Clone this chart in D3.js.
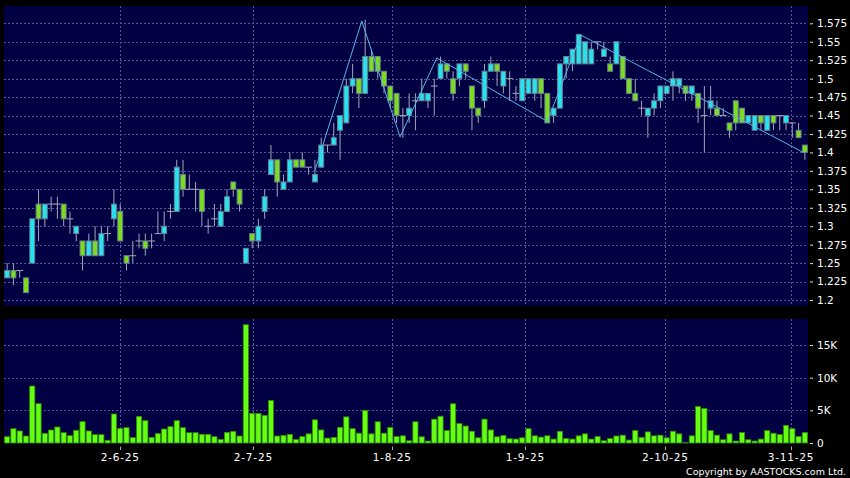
<!DOCTYPE html>
<html>
<head>
<meta charset="utf-8">
<script src="https://cdn.jsdelivr.net/npm/d3@7"></script>
<style>
  html, body { margin: 0; padding: 0; background: #000; }
  svg { display: block; }
</style>
</head>
<body>
<svg id="chart" width="850" height="478"></svg>
<script>
// daily OHLC, oldest first
const open = [
  1.23, 1.24, 1.24, 1.23, 1.25, 1.33, 1.31, 1.33, 1.33, 1.33,
  1.31, 1.29, 1.28, 1.26, 1.28, 1.26, 1.29, 1.31, 1.32, 1.26,
  1.26, 1.28, 1.28, 1.28, 1.29, 1.29, 1.32, 1.32, 1.37, 1.35,
  1.35, 1.35, 1.30, 1.31, 1.30, 1.32, 1.36, 1.35, 1.25, 1.29,
  1.28, 1.32, 1.37, 1.39, 1.35, 1.36, 1.39, 1.39, 1.38, 1.36,
  1.38, 1.41, 1.41, 1.43, 1.44, 1.49, 1.50, 1.48, 1.53, 1.53,
  1.51, 1.49, 1.48, 1.45, 1.45, 1.47, 1.47, 1.47, 1.49, 1.50,
  1.52, 1.50, 1.50, 1.52, 1.49, 1.46, 1.47, 1.51, 1.52, 1.49,
  1.50, 1.48, 1.47, 1.48, 1.48, 1.50, 1.48, 1.45, 1.46, 1.52,
  1.52, 1.52, 1.52, 1.52, 1.55, 1.53, 1.52, 1.52, 1.53, 1.50,
  1.48, 1.46, 1.45, 1.46, 1.47, 1.48, 1.49, 1.49, 1.49, 1.48,
  1.48, 1.45, 1.46, 1.46, 1.45, 1.44, 1.47, 1.46, 1.44, 1.43,
  1.45, 1.43, 1.45, 1.45, 1.44, 1.44, 1.43, 1.41
];
const high = [
  1.25, 1.25, 1.24, 1.23, 1.31, 1.35, 1.33, 1.34, 1.34, 1.33,
  1.32, 1.30, 1.28, 1.29, 1.30, 1.30, 1.30, 1.35, 1.33, 1.26,
  1.28, 1.29, 1.29, 1.29, 1.32, 1.32, 1.33, 1.39, 1.39, 1.37,
  1.36, 1.35, 1.31, 1.33, 1.33, 1.35, 1.36, 1.35, 1.27, 1.29,
  1.31, 1.35, 1.41, 1.39, 1.37, 1.40, 1.39, 1.40, 1.38, 1.39,
  1.42, 1.41, 1.44, 1.45, 1.50, 1.52, 1.50, 1.58, 1.54, 1.53,
  1.51, 1.49, 1.48, 1.46, 1.48, 1.48, 1.50, 1.48, 1.50, 1.53,
  1.52, 1.51, 1.52, 1.52, 1.49, 1.46, 1.52, 1.53, 1.52, 1.51,
  1.51, 1.49, 1.50, 1.50, 1.50, 1.50, 1.48, 1.46, 1.52, 1.53,
  1.54, 1.56, 1.55, 1.55, 1.55, 1.55, 1.53, 1.55, 1.53, 1.50,
  1.50, 1.47, 1.46, 1.48, 1.49, 1.49, 1.51, 1.50, 1.49, 1.49,
  1.48, 1.49, 1.49, 1.47, 1.46, 1.44, 1.47, 1.46, 1.45, 1.45,
  1.45, 1.45, 1.45, 1.45, 1.45, 1.44, 1.44, 1.41
];
const low = [
  1.23, 1.22, 1.23, 1.21, 1.25, 1.28, 1.30, 1.32, 1.31, 1.30,
  1.29, 1.28, 1.24, 1.26, 1.26, 1.26, 1.28, 1.30, 1.28, 1.24,
  1.25, 1.27, 1.26, 1.27, 1.29, 1.28, 1.31, 1.32, 1.34, 1.35,
  1.32, 1.30, 1.29, 1.30, 1.30, 1.32, 1.34, 1.32, 1.25, 1.27,
  1.27, 1.31, 1.37, 1.34, 1.35, 1.36, 1.38, 1.38, 1.37, 1.36,
  1.38, 1.40, 1.41, 1.39, 1.44, 1.48, 1.46, 1.48, 1.51, 1.50,
  1.48, 1.46, 1.44, 1.42, 1.44, 1.43, 1.47, 1.46, 1.45, 1.50,
  1.50, 1.47, 1.49, 1.50, 1.43, 1.44, 1.46, 1.51, 1.49, 1.48,
  1.47, 1.47, 1.47, 1.48, 1.47, 1.46, 1.44, 1.44, 1.46, 1.50,
  1.51, 1.52, 1.52, 1.52, 1.54, 1.53, 1.51, 1.52, 1.50, 1.48,
  1.47, 1.45, 1.42, 1.45, 1.46, 1.48, 1.47, 1.48, 1.47, 1.47,
  1.44, 1.40, 1.45, 1.45, 1.45, 1.42, 1.43, 1.44, 1.44, 1.43,
  1.43, 1.43, 1.43, 1.43, 1.43, 1.42, 1.42, 1.39
];
const close = [
  1.24, 1.23, 1.24, 1.21, 1.31, 1.31, 1.33, 1.33, 1.33, 1.31,
  1.31, 1.30, 1.26, 1.28, 1.26, 1.29, 1.29, 1.33, 1.28, 1.25,
  1.26, 1.28, 1.27, 1.28, 1.29, 1.30, 1.32, 1.38, 1.35, 1.35,
  1.35, 1.32, 1.30, 1.31, 1.32, 1.34, 1.35, 1.33, 1.27, 1.28,
  1.30, 1.34, 1.39, 1.36, 1.36, 1.39, 1.38, 1.38, 1.38, 1.37,
  1.41, 1.41, 1.42, 1.45, 1.49, 1.50, 1.48, 1.53, 1.51, 1.51,
  1.49, 1.47, 1.45, 1.45, 1.46, 1.47, 1.48, 1.48, 1.49, 1.52,
  1.51, 1.48, 1.52, 1.51, 1.46, 1.45, 1.51, 1.52, 1.51, 1.51,
  1.50, 1.48, 1.50, 1.50, 1.50, 1.48, 1.44, 1.46, 1.52, 1.53,
  1.54, 1.56, 1.55, 1.54, 1.55, 1.54, 1.51, 1.55, 1.50, 1.48,
  1.47, 1.46, 1.46, 1.47, 1.49, 1.49, 1.50, 1.50, 1.48, 1.49,
  1.46, 1.45, 1.47, 1.45, 1.45, 1.43, 1.44, 1.44, 1.45, 1.45,
  1.44, 1.45, 1.44, 1.45, 1.45, 1.44, 1.42, 1.40
];
const volume = [
  970, 2190, 1840, 1070, 8720, 6020, 1480, 1990, 2450, 1580,
  1120, 1940, 3270, 1840, 1280, 1280, 410, 4440, 2240, 2350,
  820, 4080, 3420, 870, 1430, 2140, 2500, 3420, 2350, 1580,
  1580, 1330, 1330, 970, 560, 1630, 1790, 1070, 18100, 4540,
  4540, 4230, 6530, 1070, 1170, 1330, 550, 1000, 1400, 3550,
  2000, 750, 850, 2400, 4000, 2200, 1500, 5000, 1400, 3250,
  1500, 2400, 1000, 1100, 350, 3250, 950, 300, 3650, 4100,
  1900, 6000, 3000, 2600, 1800, 800, 3650, 2000, 950, 1150,
  650, 600, 800, 2200, 1100, 900, 1100, 600, 1800, 700,
  600, 1100, 1400, 600, 1000, 350, 700, 1070, 1200, 450,
  1900, 870, 1700, 1100, 1200, 800, 1800, 1400, 100, 1100,
  5600, 5300, 1900, 1200, 500, 1400, 300, 1600, 500, 300,
  600, 1900, 1500, 1300, 2700, 2200, 1000, 1600
];

const priceTicks = [1.2, 1.225, 1.25, 1.275, 1.3, 1.325, 1.35, 1.375, 1.4,
  1.425, 1.45, 1.475, 1.5, 1.525, 1.55, 1.575];
const volumeTicks = [0, 5000, 10000, 15000];
const dateLabels = ["2-6-25", "2-7-25", "1-8-25", "1-9-25", "2-10-25", "3-11-25"];
const dateIdx = [18, 39.2, 61.3, 82.5, 104.8, 124.8];

// swing line overlay (bar index, price)
const zigIdx = [49, 56.46, 62.56, 68.4, 86, 91.33, 126.76];
const zigPrice = [1.3755, 1.578, 1.421, 1.528, 1.442, 1.559, 1.40];

const main = { left: 4, right: 808, top: 6, bottom: 306 };
const vpan = { top: 319, bottom: 444 };

const UP = "#28e2f0";
const DOWN = "#7edc1e";
const GRID = "#55559a";

const bars = d3.range(open.length).map(i => ({
  i, o: open[i], h: high[i], l: low[i], c: close[i], v: volume[i]
}));

const x = d3.scaleBand()
  .domain(bars.map(d => d.i))
  .range([main.left, main.right]);
const xc = i => main.left + (i + 0.5) * x.step();

const y = d3.scaleLinear().domain([1.2, 1.575]).range([300, 23.3]);
const yv = d3.scaleLinear().domain([0, 15000]).range([443, 345]);

const svg = d3.select("#chart");

svg.append("rect")
  .attr("width", 850).attr("height", 478).attr("fill", "#000");

// panels
svg.append("rect")
  .attr("x", main.left).attr("y", main.top)
  .attr("width", main.right - main.left).attr("height", main.bottom - main.top)
  .attr("fill", "#000042");

svg.append("rect")
  .attr("x", main.left).attr("y", vpan.top)
  .attr("width", main.right - main.left).attr("height", vpan.bottom - vpan.top)
  .attr("fill", "#000042");

const grid = svg.append("g")
  .attr("stroke", GRID)
  .attr("stroke-width", 1)
  .attr("stroke-dasharray", "2,2")
  .attr("shape-rendering", "crispEdges");

grid.selectAll(".hp")
  .data(priceTicks)
  .enter()
  .append("line")
  .attr("x1", main.left).attr("x2", main.right)
  .attr("y1", d => Math.round(y(d)) + 0.5)
  .attr("y2", d => Math.round(y(d)) + 0.5);

grid.selectAll(".hv")
  .data(volumeTicks.filter(d => d > 0))
  .enter()
  .append("line")
  .attr("x1", main.left).attr("x2", main.right)
  .attr("y1", d => Math.round(yv(d)) + 0.5)
  .attr("y2", d => Math.round(yv(d)) + 0.5);

grid.selectAll(".vx")
  .data(dateIdx)
  .enter()
  .append("path")
  .attr("d", d => {
    const px = Math.round(xc(d)) + 0.5;
    return `M${px},${main.top}V${main.bottom}M${px},${vpan.top}V${vpan.bottom}`;
  });

// candles
const candle = svg.append("g").selectAll(".candle")
  .data(bars)
  .enter()
  .append("g")
  .attr("class", "candle");

candle.append("line")
  .attr("x1", d => xc(d.i)).attr("x2", d => xc(d.i))
  .attr("y1", d => y(d.h)).attr("y2", d => y(d.l))
  .attr("stroke", "#a2a6b8")
  .attr("stroke-width", 1);

candle.filter(d => d.o === d.c)
  .append("line")
  .attr("x1", d => xc(d.i) - 3.4).attr("x2", d => xc(d.i) + 3.4)
  .attr("y1", d => y(d.o)).attr("y2", d => y(d.o))
  .attr("stroke", "#a2a6b8")
  .attr("stroke-width", 1);

candle.filter(d => d.o !== d.c)
  .append("rect")
  .attr("x", d => xc(d.i) - 2.45)
  .attr("width", 4.9)
  .attr("y", d => y(Math.max(d.o, d.c)))
  .attr("height", d => Math.abs(y(d.o) - y(d.c)))
  .attr("fill", d => d.c > d.o ? UP : DOWN)
  .attr("stroke", "#62808e")
  .attr("stroke-width", 1);

// swing line
const zig = d3.line()
  .x(i => xc(zigIdx[i]))
  .y(i => y(zigPrice[i]));

svg.append("path")
  .attr("d", zig(d3.range(zigIdx.length)))
  .attr("fill", "none")
  .attr("stroke", "#56b6e6")
  .attr("stroke-width", 1);

// volume
svg.append("g").selectAll(".vol")
  .data(bars)
  .enter()
  .append("rect")
  .attr("x", d => xc(d.i) - 2.6)
  .attr("width", 5.2)
  .attr("y", d => yv(d.v))
  .attr("height", d => yv(0) - yv(d.v))
  .attr("fill", "#66ff14")
  .attr("stroke", "#2c8a00")
  .attr("stroke-width", 0.8);

// right axes
const font = "DejaVu Sans, Verdana, sans-serif";

const yAxis = d3.axisRight(y)
  .tickValues(priceTicks)
  .tickSize(3)
  .tickPadding(4)
  .tickFormat(d => d3.format("")(+d.toFixed(3)));

const vAxis = d3.axisRight(yv)
  .tickValues(volumeTicks)
  .tickSize(3)
  .tickPadding(4)
  .tickFormat(d => d === 0 ? "0" : `${d / 1000}K`);

[yAxis, vAxis].forEach(ax => {
  const g = svg.append("g")
    .attr("transform", `translate(${main.right + 2},0)`)
    .call(ax);
  g.select(".domain").remove();
  g.selectAll("line").attr("stroke", "#ddd");
  g.selectAll("text")
    .attr("fill", "#fff")
    .style("font-family", font)
    .style("font-size", "10.5px");
});

// date axis
const xAxis = svg.append("g");

xAxis.selectAll(".tick")
  .data(dateIdx)
  .enter()
  .append("line")
  .attr("x1", d => Math.round(xc(d)) + 0.5)
  .attr("x2", d => Math.round(xc(d)) + 0.5)
  .attr("y1", 446.5).attr("y2", 450)
  .attr("stroke", "#aaa");

xAxis.selectAll(".label")
  .data(dateIdx)
  .enter()
  .append("text")
  .attr("x", d => xc(d))
  .attr("y", 461)
  .attr("text-anchor", "middle")
  .attr("fill", "#fff")
  .style("font-family", font)
  .style("font-size", "10.5px")
  .style("letter-spacing", "0.8px")
  .text((d, i) => dateLabels[i]);

svg.append("text")
  .attr("x", 846)
  .attr("y", 474.5)
  .attr("text-anchor", "end")
  .attr("fill", "#fff")
  .style("font-family", font)
  .style("font-size", "9.5px")
  .text("Copyright by AASTOCKS.com Ltd.");
</script>
</body>
</html>
